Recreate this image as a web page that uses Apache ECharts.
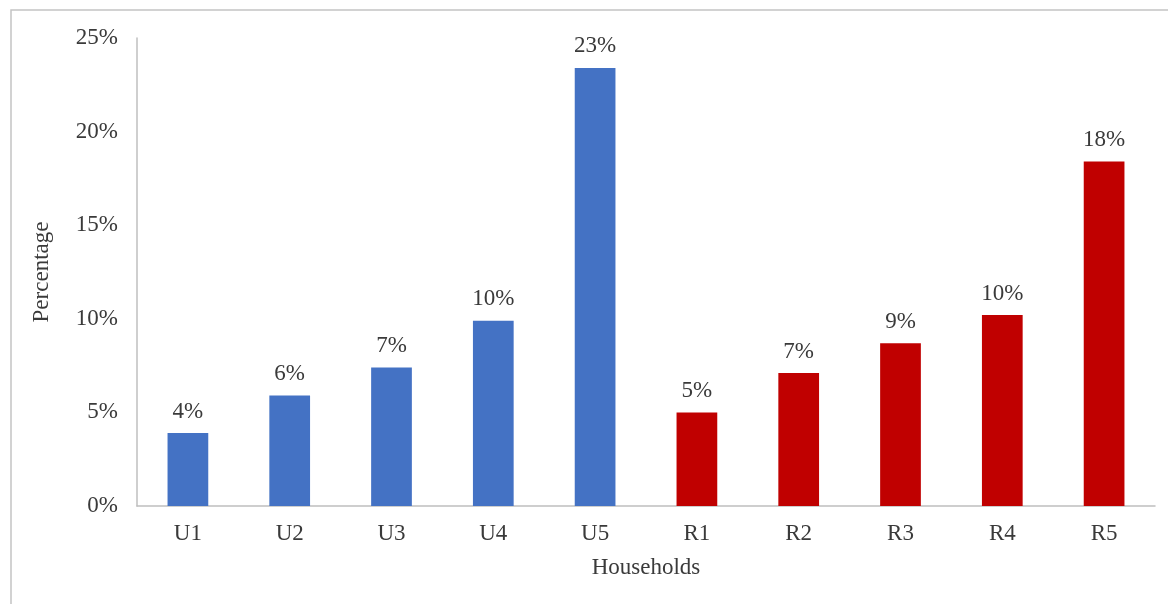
<!DOCTYPE html>
<html>
<head>
<meta charset="utf-8">
<title>Households percentage</title>
<script src="https://cdn.jsdelivr.net/npm/echarts@6/dist/echarts.min.js"></script>
<style>
  html, body { margin: 0; padding: 0; background: #ffffff; }
  #chart { width: 1168px; height: 604px; }
</style>
</head>
<body>
<div id="chart"></div>
<script>
// Household groups: urban (U1–U5) and rural (R1–R5)
const categories = ['U1', 'U2', 'U3', 'U4', 'U5', 'R1', 'R2', 'R3', 'R4', 'R5'];
const urbanValues = [3.9, 5.9, 7.4, 9.9, 23.4];
const ruralValues = [5.0, 7.1, 8.7, 10.2, 18.4];
const yTicks = { min: 0, max: 25, interval: 5 };

const URBAN_COLOR = '#4472C4';
const RURAL_COLOR = '#C00000';
const TEXT_COLOR = '#3a3a3a';
const FONT = '"Liberation Serif", "DejaVu Serif", serif';
const FONT_SIZE = 23;

const barData = urbanValues.map(v => ({ value: v, itemStyle: { color: URBAN_COLOR } }))
  .concat(ruralValues.map(v => ({ value: v, itemStyle: { color: RURAL_COLOR } })));

const chart = echarts.init(document.getElementById('chart'), null, { renderer: 'canvas' });

chart.setOption({
  animation: false,
  backgroundColor: '#ffffff',
  textStyle: { fontFamily: FONT, color: TEXT_COLOR },
  graphic: [{
    type: 'rect',
    shape: { x: 11, y: 10, width: 1200, height: 700 },
    style: { fill: 'none', stroke: '#c4c4c4', lineWidth: 1.5 },
    silent: true
  }],
  grid: { left: 137, right: 13, top: 38, bottom: 98 },
  xAxis: {
    type: 'category',
    data: categories,
    name: 'Households',
    nameLocation: 'middle',
    nameGap: 50,
    nameTextStyle: { fontFamily: FONT, fontSize: FONT_SIZE, color: TEXT_COLOR },
    axisLine: { lineStyle: { color: '#bfbfbf', width: 1.5 } },
    axisTick: { show: false },
    axisLabel: { fontFamily: FONT, fontSize: FONT_SIZE, color: TEXT_COLOR, margin: 16 }
  },
  yAxis: {
    type: 'value',
    min: yTicks.min,
    max: yTicks.max,
    interval: yTicks.interval,
    name: 'Percentage',
    nameLocation: 'middle',
    nameGap: 84,
    nameRotate: 90,
    nameTextStyle: { fontFamily: FONT, fontSize: FONT_SIZE, color: TEXT_COLOR },
    axisLine: { show: true, lineStyle: { color: '#bfbfbf', width: 1.5 } },
    axisTick: { show: false },
    splitLine: { show: false },
    axisLabel: {
      fontFamily: FONT, fontSize: FONT_SIZE, color: TEXT_COLOR, margin: 19,
      formatter: v => v + '%'
    }
  },
  series: [{
    type: 'bar',
    data: barData,
    barWidth: '40%',
    label: {
      show: true,
      position: 'top',
      distance: 10,
      fontFamily: FONT,
      fontSize: FONT_SIZE,
      color: TEXT_COLOR,
      formatter: p => Math.round(p.value) + '%'
    }
  }]
});
</script>
</body>
</html>
